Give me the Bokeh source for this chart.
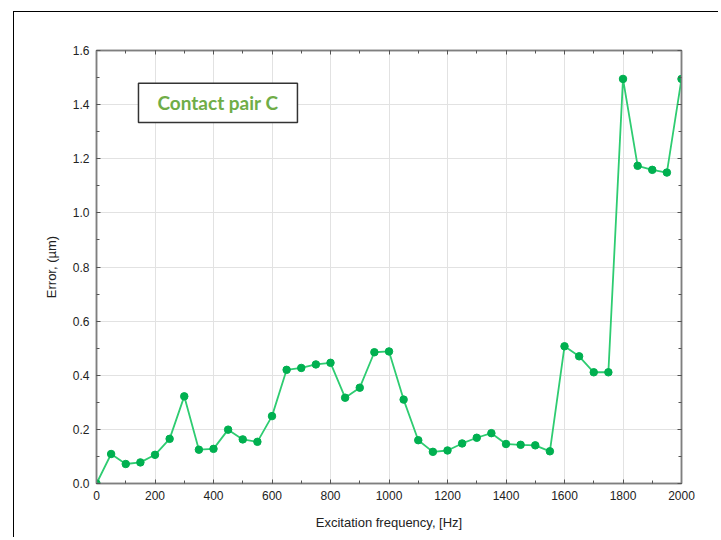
from bokeh.plotting import figure
from bokeh.models import (LinearAxis, BoxAnnotation, Label, FixedTicker, Range1d,
                          PrintfTickFormatter, CustomJSTickFormatter, Spacer)
from bokeh.layouts import column, row
from bokeh.embed import file_html
from bokeh.resources import INLINE

freq = [0, 50, 100, 150, 200, 250, 300, 350, 400, 450, 500, 550, 600, 650, 700, 750,
        800, 850, 900, 950, 1000, 1050, 1100, 1150, 1200, 1250, 1300, 1350, 1400, 1450,
        1500, 1550, 1600, 1650, 1700, 1750, 1800, 1850, 1900, 1950, 2000]
error = [0.0, 0.109, 0.072, 0.078, 0.106, 0.165, 0.322, 0.125, 0.128, 0.199, 0.163, 0.154,
         0.249, 0.420, 0.427, 0.440, 0.446, 0.317, 0.354, 0.485, 0.488, 0.310, 0.160, 0.117,
         0.122, 0.148, 0.169, 0.186, 0.146, 0.143, 0.141, 0.119, 0.507, 0.470, 0.411, 0.411,
         1.495, 1.174, 1.159, 1.149, 1.495]
x_ticks = [0, 200, 400, 600, 800, 1000, 1200, 1400, 1600, 1800, 2000]
y_ticks = [0.0, 0.2, 0.4, 0.6, 0.8, 1.0, 1.2, 1.4, 1.6]
x_minor = list(range(0, 2001, 100))
y_minor = [i / 10 for i in range(0, 17)]

FONT = "Liberation Sans"

p = figure(width=705, height=526, output_backend="svg", toolbar_location=None,
           x_range=Range1d(0, 2000), y_range=Range1d(0, 1.6),
           min_border_left=82, min_border_right=38, min_border_top=38, min_border_bottom=55,
           x_axis_label="Excitation frequency, [Hz]", y_axis_label="Error, (\u00b5m)")
p.styles = {"border-left": "1px solid #000000", "border-top": "1px solid #000000"}
p.outline_line_color = "#7f7f7f"
p.outline_line_width = 1.5

xt = FixedTicker(ticks=x_ticks, minor_ticks=x_minor)
yt = FixedTicker(ticks=y_ticks, minor_ticks=y_minor)

def style_axis(ax):
    ax.axis_line_color = "#7f7f7f"
    ax.axis_line_width = 1.5
    ax.major_tick_in = 4
    ax.major_tick_out = 0
    ax.minor_tick_in = 3
    ax.minor_tick_out = 0
    ax.major_tick_line_color = "#555555"
    ax.minor_tick_line_color = "#555555"
    ax.major_label_text_font = FONT
    ax.major_label_text_font_size = "12px"
    ax.major_label_text_color = "#222222"
    ax.axis_label_text_font = FONT
    ax.axis_label_text_font_size = "13px"
    ax.axis_label_text_font_style = "normal"
    ax.axis_label_text_color = "#222222"

p.xaxis.ticker = xt
p.yaxis.ticker = yt
p.yaxis.formatter = PrintfTickFormatter(format="%.1f")
style_axis(p.xaxis[0])
style_axis(p.yaxis[0])
p.xaxis.major_label_standoff = 7
p.yaxis.major_label_standoff = 7
p.yaxis.axis_label_standoff = 11
p.xaxis.axis_label_standoff = 12

blank = CustomJSTickFormatter(code="return '';")
top = LinearAxis(ticker=FixedTicker(ticks=x_ticks, minor_ticks=x_minor), formatter=blank)
right = LinearAxis(ticker=FixedTicker(ticks=y_ticks, minor_ticks=y_minor), formatter=blank)
style_axis(top)
style_axis(right)
top.major_label_standoff = 0
right.major_label_standoff = 0
p.add_layout(top, "above")
p.add_layout(right, "right")

p.xgrid.ticker = xt
p.ygrid.ticker = yt
p.grid.grid_line_color = "#e2e2e2"
p.grid.grid_line_width = 1

p.line(freq, error, line_color="#2ecc71", line_width=1.8)
p.scatter(freq, error, size=7.5, fill_color="#00b050", line_color="#00b050")

box = BoxAnnotation(left=143.5, right=687, top=1.479, bottom=1.334,
                    fill_color="white", fill_alpha=1.0,
                    line_color="#333333", line_width=1.5, line_alpha=1.0)
p.add_layout(box)
lab = Label(x=415, y=1.4065, text="Contact pair C", text_font="Lato",
            text_font_style="bold", text_font_size="19px", text_color="#70ad47",
            text_align="center", text_baseline="middle")
p.add_layout(lab)

layout = column(Spacer(width=10, height=11), row(Spacer(width=13, height=10), p))
open("out.html", "w").write(file_html(layout, INLINE))
